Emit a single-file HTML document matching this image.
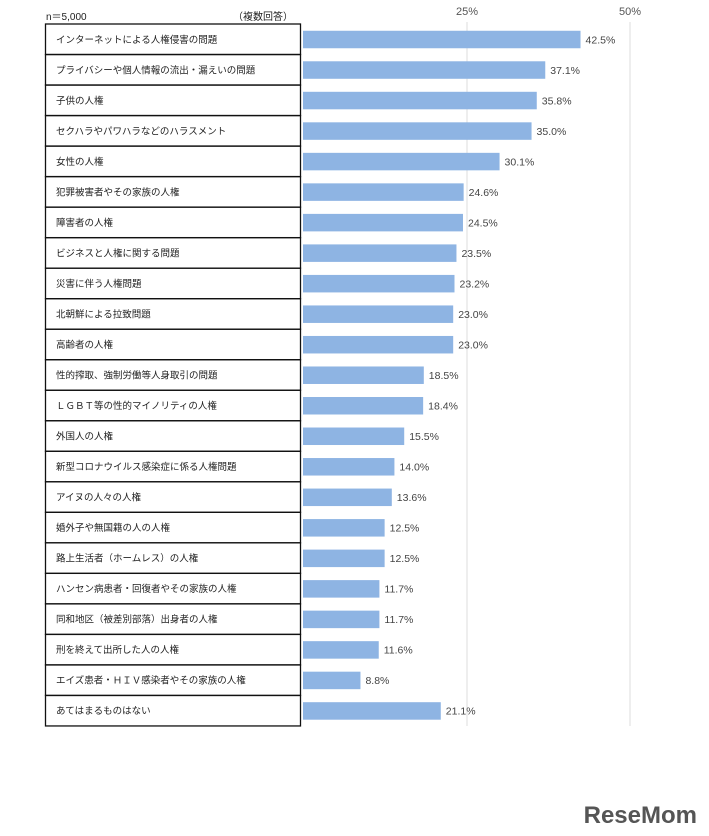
<!DOCTYPE html>
<html><head><meta charset="utf-8"><style>
body{margin:0;background:#fff;width:709px;height:836px;overflow:hidden;position:relative;font-family:"Liberation Sans","Noto Sans CJK JP",sans-serif;color:#333}
</style></head><body>
<svg width="709" height="836" style="position:absolute;left:0;top:0" font-family="Liberation Sans, Noto Sans CJK JP, sans-serif">
<line x1="467" y1="22" x2="467" y2="726" stroke="#ddd" stroke-width="1"/>
<line x1="630" y1="22" x2="630" y2="726" stroke="#ddd" stroke-width="1"/>
<text x="467" y="15" font-size="11" fill="#555" text-anchor="middle">25%</text>
<text x="630" y="15" font-size="11" fill="#555" text-anchor="middle">50%</text>
<text x="46" y="20" font-size="10" fill="#222">n＝5,000</text>
<text x="293" y="20" font-size="10" fill="#222" text-anchor="end">（複数回答）</text>
<g id="rows"></g>
<text x="697" y="823" font-size="24" font-weight="bold" fill="#555" text-anchor="end">ReseMom</text>
</svg>
<script>
(function(){
var d=[["インターネットによる人権侵害の問題",42.5],["プライバシーや個人情報の流出・漏えいの問題",37.1],["子供の人権",35.8],["セクハラやパワハラなどのハラスメント",35.0],["女性の人権",30.1],["犯罪被害者やその家族の人権",24.6],["障害者の人権",24.5],["ビジネスと人権に関する問題",23.5],["災害に伴う人権問題",23.2],["北朝鮮による拉致問題",23.0],["高齢者の人権",23.0],["性的搾取、強制労働等人身取引の問題",18.5],["ＬＧＢＴ等の性的マイノリティの人権",18.4],["外国人の人権",15.5],["新型コロナウイルス感染症に係る人権問題",14.0],["アイヌの人々の人権",13.6],["婚外子や無国籍の人の人権",12.5],["路上生活者（ホームレス）の人権",12.5],["ハンセン病患者・回復者やその家族の人権",11.7],["同和地区（被差別部落）出身者の人権",11.7],["刑を終えて出所した人の人権",11.6],["エイズ患者・ＨＩＶ感染者やその家族の人権",8.8],["あてはまるものはない",21.1]];
var s="",T0=24,RH=30.52,X0=303,K=6.53;
for(var i=0;i<d.length;i++){var r=d[i],y=T0+i*RH,c=y+RH/2,w=r[1]*K;
s+='<rect x="45.5" y="'+y+'" width="255" height="'+RH+'" fill="none" stroke="#111" stroke-width="1.3"/>';
s+='<text x="56" y="'+(c+3.5)+'" font-size="9.5" fill="#222">'+r[0]+'</text>';
s+='<rect x="'+X0+'" y="'+(c-8.5)+'" width="'+w+'" height="17.5" fill="#8EB4E3"/>';
s+='<text x="'+(X0+w+5)+'" y="'+(c+4)+'" font-size="10.5" fill="#444">'+r[1].toFixed(1)+'%</text>';}
document.getElementById("rows").innerHTML=s;
})();
</script>
</body></html>
